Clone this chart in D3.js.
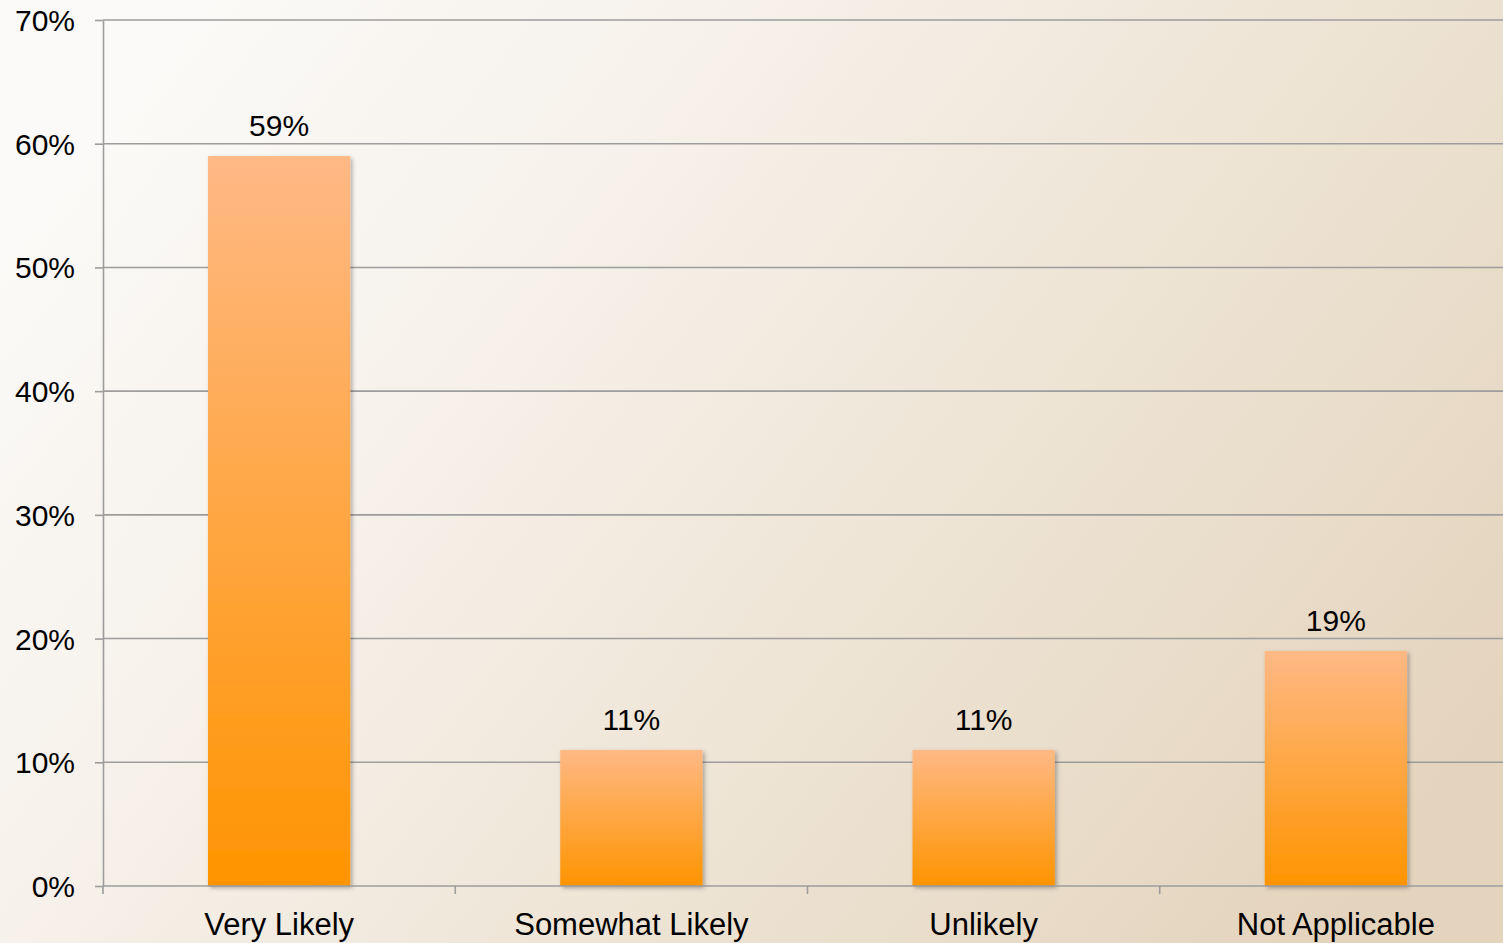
<!DOCTYPE html>
<html>
<head>
<meta charset="utf-8">
<script src="https://cdn.jsdelivr.net/npm/d3@7"></script>
<style>
  html, body { margin: 0; padding: 0; overflow: hidden; }
  svg { display: block; }
  text { font-family: "Liberation Sans", Arial, sans-serif; fill: #000; }
</style>
</head>
<body>
<svg id="chart" width="1503" height="943"></svg>
<script>
// Survey responses: share of respondents per answer
const categories = ["Very Likely", "Somewhat Likely", "Unlikely", "Not Applicable"];
const values = [0.59, 0.11, 0.11, 0.19];
const valueLabels = ["59%", "11%", "11%", "19%"];
const yTicks = [0, 0.1, 0.2, 0.3, 0.4, 0.5, 0.6, 0.7];

const W = 1503, H = 943;
const plotLeft = 103, plotRight = 1512, plotTop = 20, plotBottom = 886;

const svg = d3.select("#chart");
const defs = svg.append("defs");

// warm background wash, near white on the left, tan toward the lower right
const bg = defs.append("linearGradient").attr("id", "bg")
  .attr("x1", "0%").attr("y1", "25%").attr("x2", "100%").attr("y2", "75%");
bg.append("stop").attr("offset", "0%").attr("stop-color", "#fbfaf8");
bg.append("stop").attr("offset", "30%").attr("stop-color", "#f6f1ea");
bg.append("stop").attr("offset", "65%").attr("stop-color", "#ede3d3");
bg.append("stop").attr("offset", "100%").attr("stop-color", "#e4d4be");

// bar fill: light apricot on top, deep orange at the base
const barGrad = defs.append("linearGradient").attr("id", "barGrad")
  .attr("x1", "0").attr("y1", "0").attr("x2", "0").attr("y2", "1");
barGrad.append("stop").attr("offset", "0%").attr("stop-color", "#ffb985");
barGrad.append("stop").attr("offset", "100%").attr("stop-color", "#ff9400");

const shadow = defs.append("filter").attr("id", "shadow")
  .attr("x", "-10%").attr("y", "-10%").attr("width", "130%").attr("height", "130%");
shadow.append("feDropShadow").attr("dx", 2).attr("dy", 2)
  .attr("stdDeviation", 2).attr("flood-color", "#000").attr("flood-opacity", 0.3);

svg.append("rect").attr("width", W).attr("height", H).attr("fill", "url(#bg)");

const x = d3.scaleBand().domain(categories).range([plotLeft, plotRight]).padding(0);
const y = d3.scaleLinear().domain([0, 0.7]).range([plotBottom, plotTop]);

// horizontal gridlines
svg.append("g").selectAll("line").data(yTicks.slice(1)).join("line")
  .attr("x1", plotLeft).attr("x2", W)
  .attr("y1", d => y(d)).attr("y2", d => y(d))
  .attr("stroke", "#9d9d9d").attr("stroke-width", 1.6);

// y axis
const yAxis = svg.append("g").attr("transform", `translate(${plotLeft},0)`)
  .call(d3.axisLeft(y).tickValues(yTicks).tickFormat(d3.format(".0%"))
    .tickSizeInner(8).tickSizeOuter(0).tickPadding(20));
yAxis.select(".domain").attr("stroke", "#9d9d9d").attr("stroke-width", 1.6);
yAxis.selectAll(".tick line").attr("stroke", "#9d9d9d").attr("stroke-width", 1.6);
yAxis.selectAll(".tick text").attr("font-size", 30).attr("fill", "#000")
  .attr("font-family", "Liberation Sans, Arial, sans-serif").attr("dy", "0.35em");

// bars
const barW = x.bandwidth() * 0.404;
svg.append("g").selectAll("rect").data(categories).join("rect")
  .attr("x", d => x(d) + (x.bandwidth() - barW) / 2)
  .attr("y", (d, i) => y(values[i]))
  .attr("width", barW)
  .attr("height", (d, i) => y(0) - y(values[i]))
  .attr("fill", "url(#barGrad)")
  .attr("filter", "url(#shadow)");

// x axis with ticks at category boundaries
const xAxisG = svg.append("g").attr("transform", `translate(0,${plotBottom})`);
xAxisG.append("line").attr("x1", plotLeft).attr("x2", W).attr("y1", 0).attr("y2", 0)
  .attr("stroke", "#9d9d9d").attr("stroke-width", 1.6);
const boundaries = categories.map(c => x(c));
xAxisG.selectAll("line.tk").data(boundaries).join("line").attr("class", "tk")
  .attr("x1", d => d).attr("x2", d => d).attr("y1", 0).attr("y2", 8)
  .attr("stroke", "#9d9d9d").attr("stroke-width", 1.6);
xAxisG.selectAll("text").data(categories).join("text")
  .attr("x", d => x(d) + x.bandwidth() / 2)
  .attr("y", 49)
  .attr("text-anchor", "middle")
  .attr("font-size", 31)
  .text(d => d);

// value labels above bars
svg.append("g").selectAll("text").data(categories).join("text")
  .attr("x", d => x(d) + x.bandwidth() / 2)
  .attr("y", (d, i) => y(values[i]) - 20)
  .attr("text-anchor", "middle")
  .attr("font-size", 30)
  .text((d, i) => valueLabels[i]);
</script>
</body>
</html>
